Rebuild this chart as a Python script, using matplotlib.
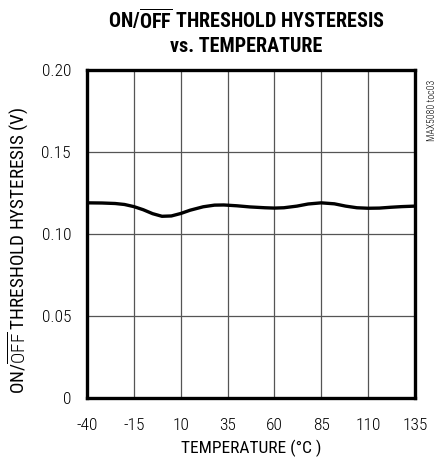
import matplotlib
matplotlib.use("Agg")
import matplotlib.pyplot as plt

temps = [-40, -32, -25, -20, -15, -10, -5, 0, 5, 10, 15, 22, 28, 33, 40, 47, 55, 60, 65, 72, 78, 85, 92, 98, 104, 110, 116, 122, 128, 135]
hyst = [0.1190, 0.1189, 0.1186, 0.1180, 0.1167, 0.1148, 0.1124, 0.1108, 0.1110, 0.1125, 0.1145, 0.1166, 0.1176, 0.1177, 0.1172, 0.1165, 0.1160, 0.1158, 0.1160, 0.1170, 0.1183, 0.1190, 0.1184, 0.1170, 0.1160, 0.1157, 0.1158, 0.1163, 0.1167, 0.1170]

xticks = [-40, -15, 10, 35, 60, 85, 110, 135]
yticks = [0, 0.05, 0.10, 0.15, 0.20]
yticklabels = ["0", "0.05", "0.10", "0.15", "0.20"]

FONT = ["Roboto Condensed", "DejaVu Sans"]
plt.rcParams["font.family"] = FONT
plt.rcParams["font.weight"] = "light"
plt.rcParams["mathtext.fontset"] = "custom"
plt.rcParams["mathtext.rm"] = "Roboto Condensed:light"
plt.rcParams["mathtext.bf"] = "Roboto Condensed:black"

fig = plt.figure(figsize=(4.38, 4.59), dpi=100)
ax = fig.add_axes([87/438, 1-398/459, (415-87)/438, (398-70)/459])

ax.plot(temps, hyst, color="black", lw=2.4, solid_capstyle="butt")

ax.set_xlim(-40, 135)
ax.set_ylim(0, 0.20)
ax.set_xticks(xticks)
ax.set_xticklabels([str(t) for t in xticks])
ax.set_yticks(yticks)
ax.set_yticklabels(yticklabels)
ax.tick_params(length=0, labelsize=12.5)
ax.tick_params(axis="x", pad=14.5)
ax.tick_params(axis="y", pad=11.5)
ax.grid(True, color="#555555", lw=0.9)
for s in ax.spines.values():
    s.set_linewidth(2.4)

ax.set_xlabel("TEMPERATURE (°C )", fontsize=12.5)
ax.xaxis.set_label_coords(0.5, -0.128)
ax.set_ylabel(r"ON/$\overline{\mathrm{OFF}}$ THRESHOLD HYSTERESIS (V)", fontsize=13.8)
ax.yaxis.set_label_coords(-0.171, 0.451)

fig.text(246/438, 1-19.5/459, r"ON/$\overline{\mathbf{OFF}}$ THRESHOLD HYSTERESIS", ha="center", va="center",
         fontsize=14.5, fontweight="black")
fig.text(246/438, 1-47/459, "vs. TEMPERATURE", ha="center", va="center", fontsize=14.5, fontweight="black")

fig.text(432/438, 1-110/459, "MAX5080 toc03", rotation=90, ha="center", va="center", fontsize=7)

fig.savefig("out.png", dpi=100)
